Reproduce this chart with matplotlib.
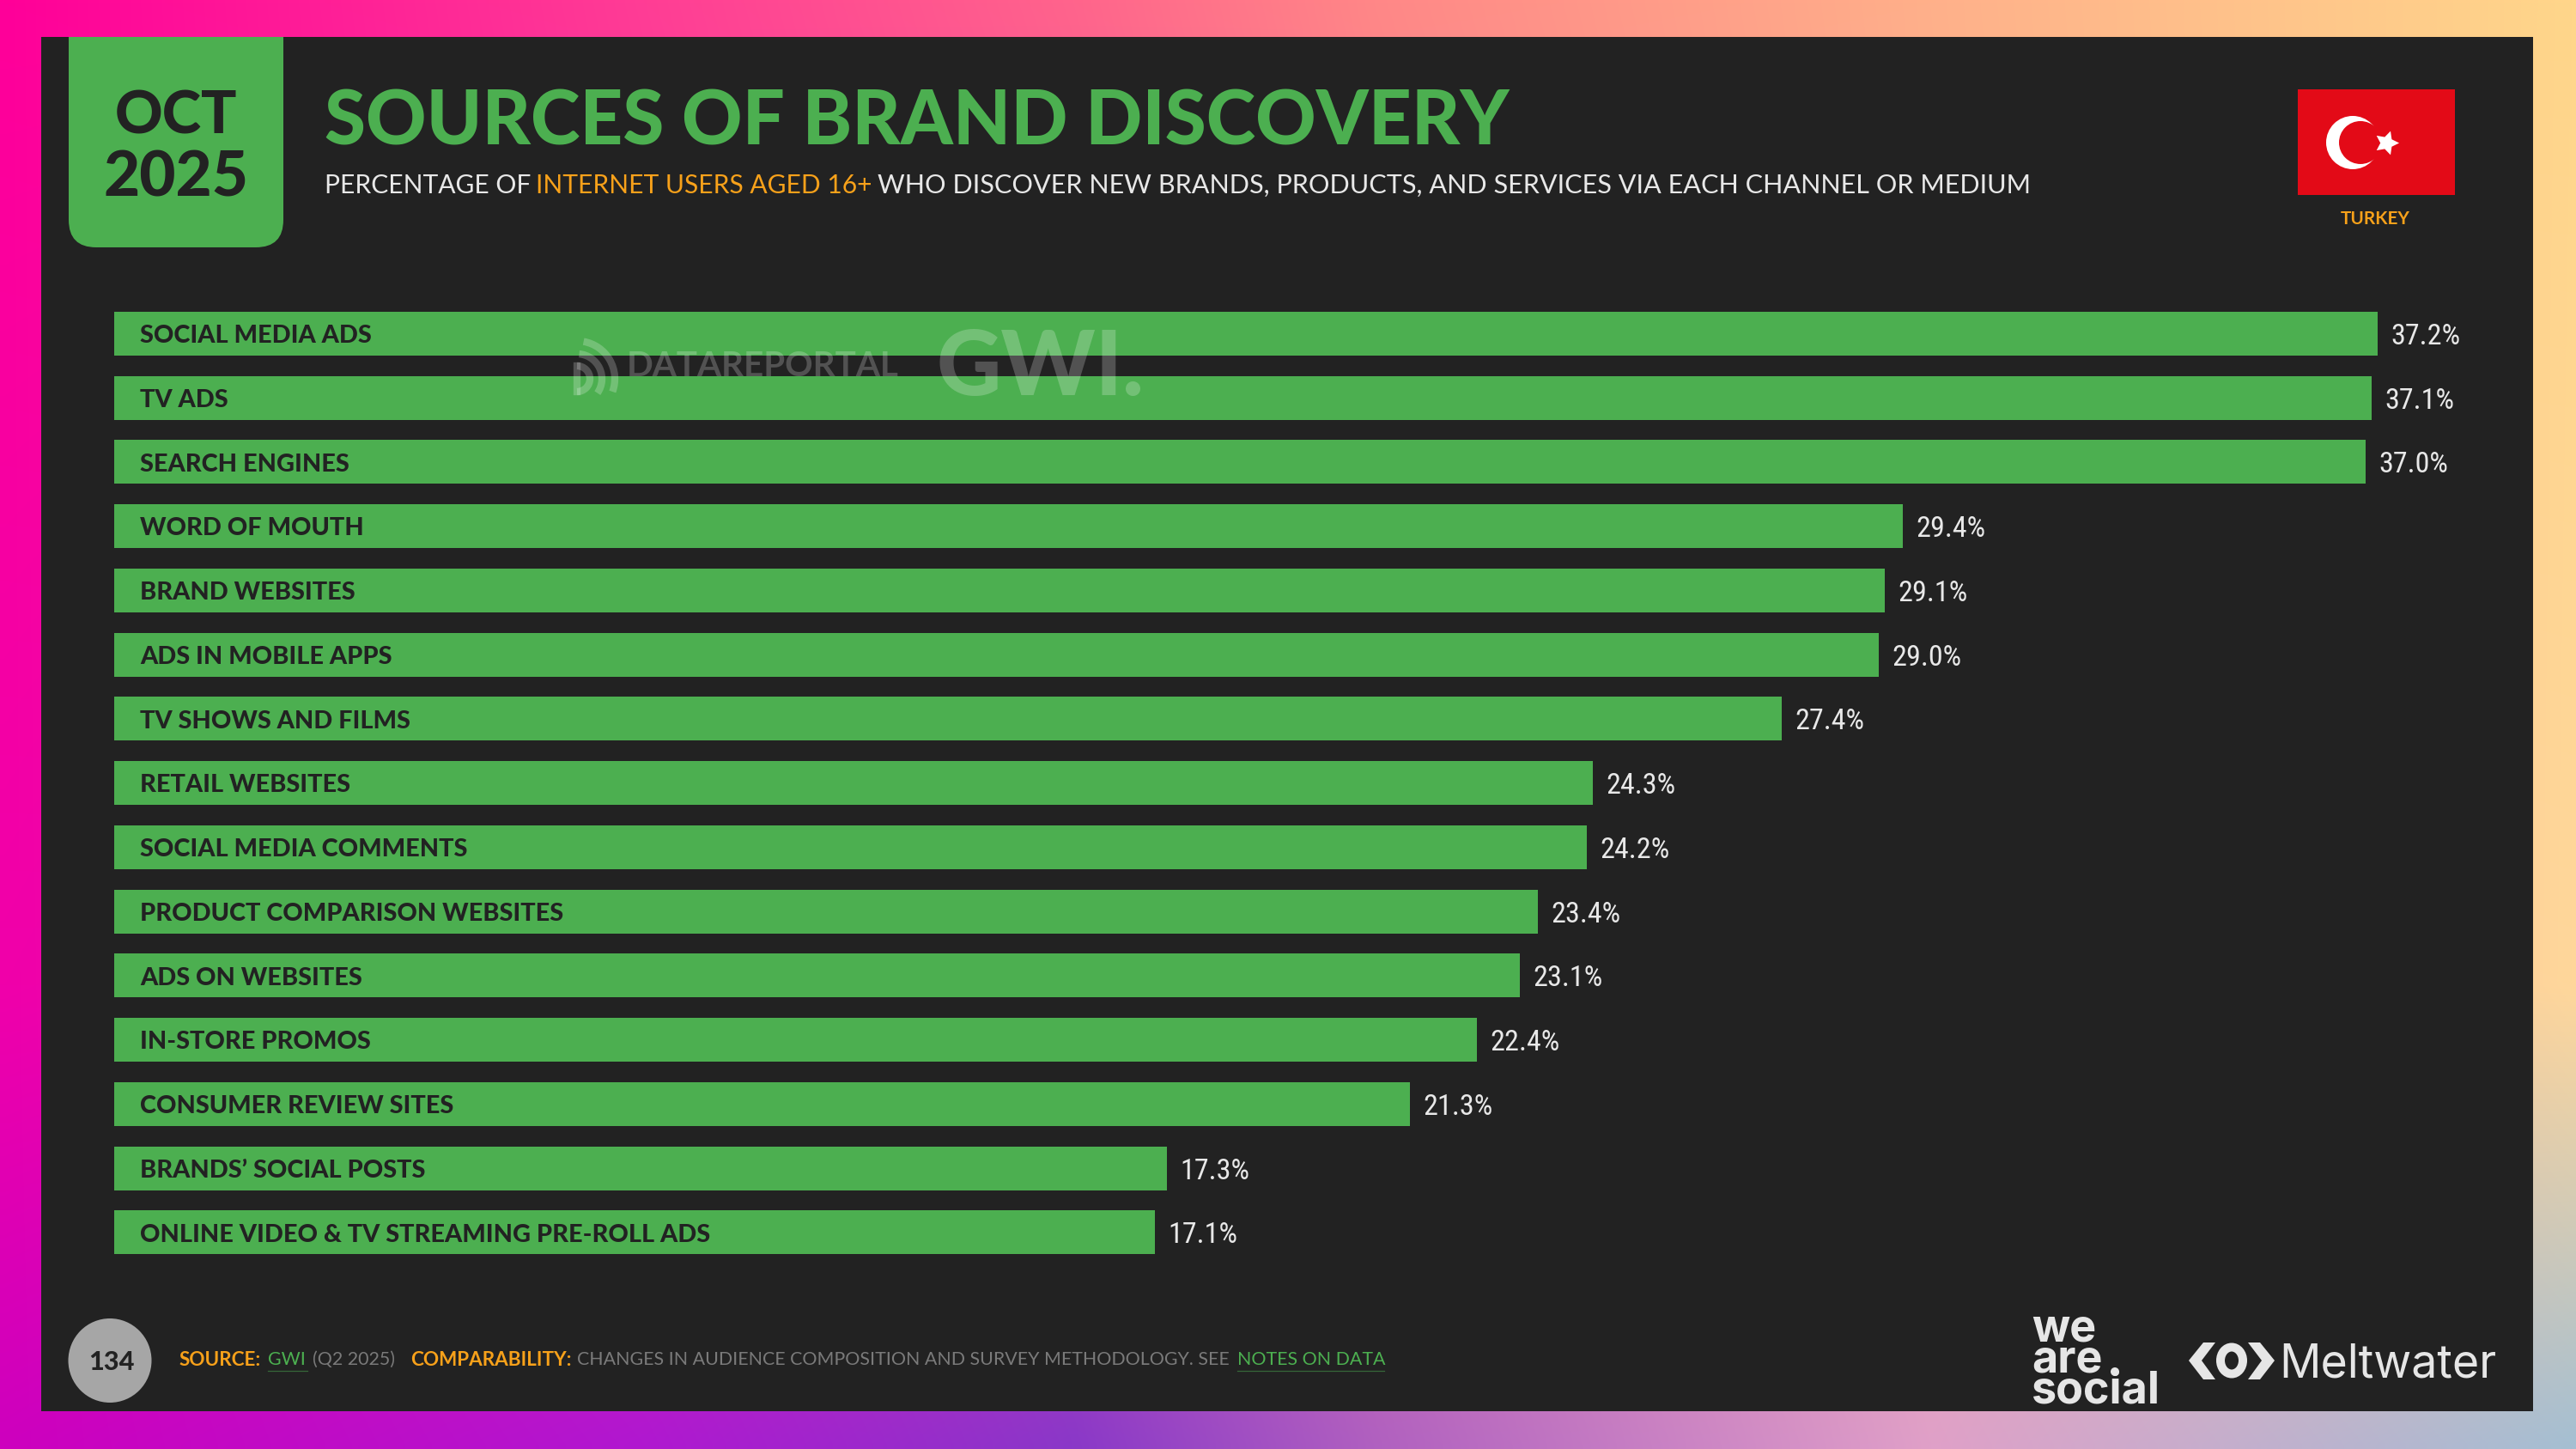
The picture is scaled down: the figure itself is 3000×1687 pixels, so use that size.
"""Sources of brand discovery, Turkey, Oct 2025."""

import numpy as np
import matplotlib
matplotlib.use("Agg")
import matplotlib.pyplot as plt
from matplotlib.patches import Arc, Circle, Ellipse, FancyBboxPatch, Polygon, Rectangle

plt.rcParams["font.family"] = ["Lato", "DejaVu Sans"]

categories = [
    "SOCIAL MEDIA ADS", "TV ADS", "SEARCH ENGINES", "WORD OF MOUTH",
    "BRAND WEBSITES", "ADS IN MOBILE APPS", "TV SHOWS AND FILMS",
    "RETAIL WEBSITES", "SOCIAL MEDIA COMMENTS", "PRODUCT COMPARISON WEBSITES",
    "ADS ON WEBSITES", "IN-STORE PROMOS", "CONSUMER REVIEW SITES",
    "BRANDS’ SOCIAL POSTS", "ONLINE VIDEO & TV STREAMING PRE-ROLL ADS",
]
values = [37.2, 37.1, 37.0, 29.4, 29.1, 29.0, 27.4, 24.3, 24.2, 23.4, 23.1, 22.4, 21.3, 17.3, 17.1]

W, H = 3000, 1687
PANEL = "#222222"
GREEN = "#4CAF50"
ORANGE = "#F7A11A"
WHITE = "#E8E8E8"
GREY = "#7A7A7A"
NARROW = ["Roboto Condensed", "Liberation Sans Narrow", "Liberation Sans", "DejaVu Sans"]

fig = plt.figure(figsize=(10, 5.6234), dpi=300)


def px_axes(zorder):
    a = fig.add_axes([0, 0, 1, 1], zorder=zorder)
    a.set_xlim(0, W)
    a.set_ylim(H, 0)
    a.axis("off")
    a.patch.set_alpha(0)
    return a


# background gradient
bg = px_axes(0)
xs = np.array([0, 750, 1250, 1600, 2250, 3000])
top_row = np.array([[255, 0, 153], [255, 61, 149], [255, 100, 140], [255, 135, 135], [255, 176, 138], [255, 214, 138]])
mid_row = np.array([[240, 0, 170], [220, 40, 170], [210, 70, 170], [220, 110, 165], [240, 170, 160], [255, 215, 155]])
bot_row = np.array([[205, 0, 190], [176, 24, 208], [138, 56, 200], [176, 96, 192], [224, 160, 200], [165, 191, 210]])
col = np.linspace(0, W, 300)
row = np.linspace(0, H, 170)
grad = np.zeros((len(row), len(col), 3))
for c in range(3):
    t = np.interp(col, xs, top_row[:, c])
    m = np.interp(col, xs, mid_row[:, c])
    b = np.interp(col, xs, bot_row[:, c])
    f = np.interp(row, [0, 1150, H], [0, 1, 2])[:, None]
    grad[:, :, c] = np.where(f < 1, t + (m - t) * f, m + (b - m) * (f - 1))
bg.imshow(grad / 255, extent=(0, W, H, 0), aspect="auto", interpolation="bilinear")
bg.set_xlim(0, W)
bg.set_ylim(H, 0)
panel = Rectangle((48, 43), 2902, 1600, fc=PANEL, ec="none")
bg.add_patch(panel)

# date tab
tab = FancyBboxPatch((110, 0), 190, 258, boxstyle="round,pad=30,rounding_size=32", fc=GREEN, ec="none")
bg.add_patch(tab)
tab.set_clip_path(panel)
bg.text(205, 136, "OCT", color=PANEL, fontsize=16.5, fontweight="black", ha="center", va="center")
bg.text(205, 208, "2025", color=PANEL, fontsize=17.5, fontweight="black", ha="center", va="center")

# title
bg.text(378, 143, "SOURCES OF BRAND DISCOVERY", color=GREEN, fontsize=20.9, fontweight="black", va="center")
bg.text(378, 216, "PERCENTAGE OF", color=WHITE, fontsize=7.2, va="center")
bg.text(624, 216, "INTERNET USERS AGED 16+", color=ORANGE, fontsize=7.2, va="center")
bg.text(1022, 216, "WHO DISCOVER NEW BRANDS, PRODUCTS, AND SERVICES VIA EACH CHANNEL OR MEDIUM",
        color=WHITE, fontsize=7.37, va="center")

# flag
bg.add_patch(Rectangle((2676, 104), 183, 123, fc="#E30A17", ec="none"))
bg.add_patch(Circle((2740, 166), 31, fc="white", ec="none"))
bg.add_patch(Circle((2749, 166), 25, fc="#E30A17", ec="none"))
bg.plot([2779], [166], marker=(5, 1, -90), ms=7, color="white", mec="none")
bg.text(2766, 255, "TURKEY", color=ORANGE, fontsize=5.0, fontweight="bold", ha="center", va="center")

# bars
left, right = 133, 133 + 40 * 70.86
step = 74.75
y_top = 388.5 - step / 2
y_bot = y_top + step * len(values)
ax = fig.add_axes([left / W, 1 - y_bot / H, (right - left) / W, (y_bot - y_top) / H], zorder=1)
ax.patch.set_alpha(0)
y = np.arange(len(values))
ax.barh(y, values, height=51 / step, color=GREEN)
ax.set_xlim(0, 40)
ax.set_ylim(len(values) - 0.5, -0.5)
ax.axis("off")
for i, (name, val) in enumerate(zip(categories, values)):
    ax.annotate(name, (0, i), xytext=(7.2, -0.6), textcoords="offset points", color=PANEL,
                fontsize=6.93, fontweight="black", va="center")
    ax.annotate(f"{val:.1f}%", (val, i), xytext=(3.7, -0.8), textcoords="offset points", color=WHITE,
                fontsize=8.2, family=NARROW, stretch="condensed", va="center")

# watermark on top of the bars
top = px_axes(2)
mark = "#FFFFFF"
top.text(730, 426, "DATAREPORTAL", color=mark, alpha=0.22, fontsize=9.7, fontweight="bold", va="center")
top.text(1090, 429, "GWI.", color=mark, alpha=0.22, fontsize=25, fontweight="black", va="center")
top.add_patch(Arc((672, 441), 30, 30, theta1=-90, theta2=90, ec=mark, lw=2, alpha=0.22))
top.plot([672, 672], [426, 456], color=mark, lw=2, alpha=0.22)
top.add_patch(Arc((672, 441), 58, 58, theta1=-85, theta2=35, ec=mark, lw=2, alpha=0.22))
top.add_patch(Arc((672, 441), 88, 88, theta1=-80, theta2=20, ec=mark, lw=2, alpha=0.22))

# footer
bg.add_patch(Ellipse((128, 1584), 97, 98, fc="#A6A6A6", ec="none"))
bg.text(130, 1586, "134", color=PANEL, fontsize=7.4, fontweight="black", ha="center", va="center")
fy = 1583
fs = 5.15
fb = 5.4
bg.text(209, fy, "SOURCE:", color=ORANGE, fontsize=fb, fontweight="bold", va="center")
bg.text(312, fy, "GWI", color=GREEN, fontsize=fs, va="center")
bg.plot([312, 358], [fy + 13, fy + 13], color=GREEN, lw=0.3, alpha=0.5)
bg.text(364, fy, "(Q2 2025)", color=GREY, fontsize=fs, va="center")
bg.text(478, fy, "COMPARABILITY:", color=ORANGE, fontsize=fb, fontweight="bold", va="center")
bg.text(672, fy, "CHANGES IN AUDIENCE COMPOSITION AND SURVEY METHODOLOGY. SEE", color=GREY, fontsize=fs, va="center")
bg.text(1441, fy, "NOTES ON DATA", color=GREEN, fontsize=fs, va="center")
bg.plot([1441, 1612], [fy + 13, fy + 13], color=GREEN, lw=0.3, alpha=0.5)

# logos
logo = "#E6E6E6"
bg.text(2366, 1584, "we\nare\nsocial", color=logo, fontsize=12.5, fontweight="bold", va="center",
        linespacing=0.67, family=["Inter", "DejaVu Sans"])
bg.add_patch(Circle((2463, 1597), 5, fc=logo, ec="none", zorder=3))
bg.add_patch(Ellipse((2599, 1584), 26, 31, fc="none", ec=logo, lw=2.4))
bg.add_patch(Polygon([[2566, 1563], [2549, 1584], [2566, 1606], [2580, 1606], [2564, 1584], [2580, 1563]], fc=logo, ec="none"))
bg.add_patch(Polygon([[2632, 1563], [2649, 1584], [2632, 1606], [2618, 1606], [2634, 1584], [2618, 1563]], fc=logo, ec="none"))
bg.text(2654, 1589, "Meltwater", color=logo, fontsize=12.9, va="center", family=["Inter", "DejaVu Sans"])

fig.savefig("out.png", dpi=300)
plt.close(fig)
